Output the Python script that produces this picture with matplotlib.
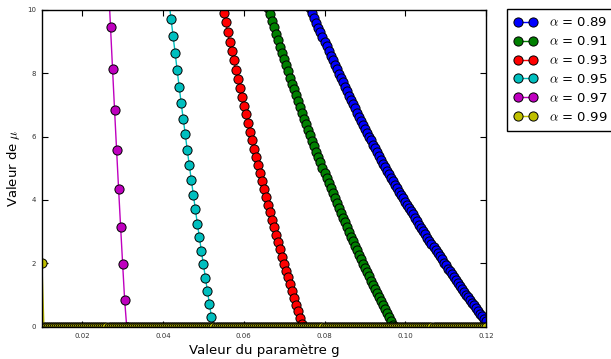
import matplotlib
matplotlib.use("Agg")
import matplotlib.pyplot as plt
import numpy as np

plt.rcParams['mathtext.fontset'] = 'cm'
plt.rcParams['font.family'] = ['DejaVu Sans']

# grid step of the parameter g
g_step = 0.0005

alphas = [0.89, 0.91, 0.93, 0.95, 0.97, 0.99]
colors = ['#0000ff', '#008000', '#ff0000', '#00bfbf', '#bf00bf', '#bfbf00']

# first g value of each series
g_start = [0.076, 0.066, 0.0545, 0.0415, 0.0265, 0.01]

mu_089 = [10.22, 10.06, 9.90, 9.75, 9.59, 9.44, 9.29, 9.14, 8.99, 8.85, 8.70,
          8.55, 8.41, 8.27, 8.13, 7.98, 7.84, 7.71, 7.57, 7.43, 7.29, 7.16,
          7.03, 6.89, 6.76, 6.63, 6.50, 6.37, 6.25, 6.12, 6.00, 5.88, 5.75,
          5.63, 5.51, 5.39, 5.27, 5.15, 5.04, 4.92, 4.81, 4.70, 4.59, 4.48,
          4.37, 4.26, 4.15, 4.05, 3.94, 3.84, 3.74, 3.64, 3.54, 3.43, 3.33,
          3.22, 3.12, 3.01, 2.91, 2.81, 2.71, 2.61, 2.51, 2.41, 2.31, 2.22,
          2.12, 2.02, 1.93, 1.83, 1.74, 1.65, 1.55, 1.46, 1.37, 1.28, 1.19,
          1.10, 1.01, 0.93, 0.84, 0.75, 0.67, 0.58, 0.50, 0.41, 0.33, 0.25,
          0.17]
mu_091 = [10.07, 9.86, 9.65, 9.45, 9.24, 9.04, 8.84, 8.64, 8.44, 8.25, 8.06,
          7.86, 7.67, 7.49, 7.30, 7.11, 6.93, 6.75, 6.57, 6.39, 6.21, 6.04,
          5.87, 5.69, 5.52, 5.35, 5.19, 5.02, 4.85, 4.69, 4.53, 4.37, 4.21,
          4.05, 3.90, 3.74, 3.59, 3.44, 3.29, 3.14, 2.99, 2.84, 2.70, 2.55,
          2.41, 2.27, 2.13, 1.99, 1.85, 1.72, 1.58, 1.45, 1.31, 1.18, 1.05,
          0.92, 0.79, 0.67, 0.54, 0.42, 0.29, 0.17, 0.05, 0.0]
mu_093 = [10.23, 9.92, 9.61, 9.31, 9.00, 8.71, 8.41, 8.12, 7.83, 7.54, 7.26,
          6.98, 6.70, 6.43, 6.16, 5.89, 5.62, 5.36, 5.10, 4.85, 4.59, 4.34,
          4.10, 3.85, 3.61, 3.37, 3.13, 2.90, 2.67, 2.44, 2.21, 1.99, 1.76,
          1.55, 1.33, 1.11, 0.90, 0.69, 0.48, 0.28, 0.08, 0.0]
mu_095 = [10.24, 9.70, 9.17, 8.64, 8.10, 7.57, 7.06, 6.56, 6.08, 5.58, 5.10,
          4.64, 4.17, 3.71, 3.25, 2.83, 2.38, 1.96, 1.54, 1.12, 0.71, 0.29,
          0.0]
mu_097 = [10.78, 9.45, 8.13, 6.84, 5.58, 4.34, 3.14, 1.97, 0.83, 0.0]
mu_099 = [2.0] + [0.0] * 220

series = [mu_089, mu_091, mu_093, mu_095, mu_097, mu_099]

fig = plt.figure(figsize=(6.11, 3.59), dpi=100)
ax = fig.add_axes([41.9 / 611, 1 - 326.5 / 359, (486 - 41.9) / 611, (326.5 - 10) / 359])

for a, c, gs, mu in zip(alphas, colors, g_start, series):
    g = gs + g_step * np.arange(len(mu))
    ax.plot(g, mu, '-o', color=c, markerfacecolor=c, markeredgecolor='black',
            markeredgewidth=0.7, markersize=6.6, linewidth=1.0,
            label=r'$\alpha$ = %.2f' % a)

ax.set_xlim(0.01, 0.12)
ax.set_ylim(0, 10)
ax.set_xticks([0.02, 0.04, 0.06, 0.08, 0.10, 0.12])
ax.set_xticklabels(['0.02', '0.04', '0.06', '0.08', '0.10', '0.12'])
ax.set_yticks([0, 2, 4, 6, 8, 10])
ax.tick_params(direction='in', top=True, right=True, length=4, width=0.8,
               labelsize=5, labelcolor='#333333')
ax.tick_params(axis='x', pad=5)
ax.tick_params(axis='y', pad=4)
for s in ax.spines.values():
    s.set_linewidth(1.0)

ax.set_xlabel('Valeur du paramètre g', fontsize=9.5, labelpad=3)
ax.set_ylabel(r'Valeur de $\mu$', fontsize=9.5, labelpad=4)

leg = fig.legend(loc='upper left', bbox_to_anchor=(507 / 611, 1 - 9 / 359),
                 borderaxespad=0, numpoints=2, handlelength=1.75,
                 handletextpad=0.85, fontsize=9.5, fancybox=False,
                 framealpha=1, edgecolor='black', labelspacing=0.45,
                 borderpad=0.55)
leg.get_frame().set_linewidth(1.0)

fig.savefig('out.png', dpi=100)
